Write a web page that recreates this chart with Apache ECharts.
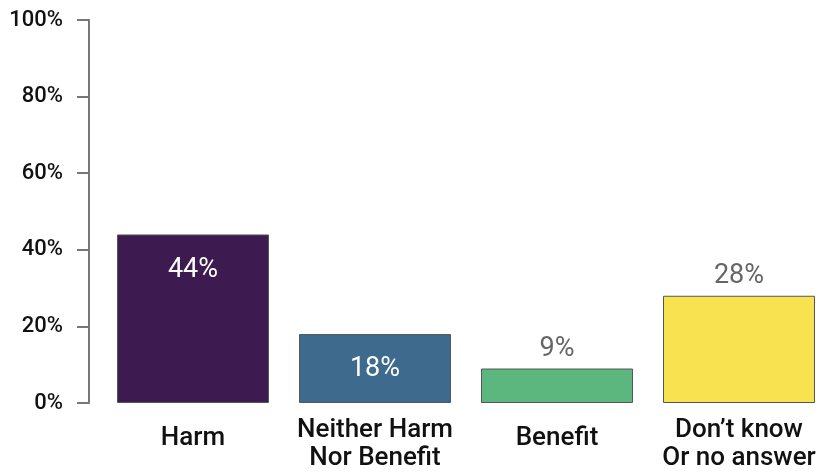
<!DOCTYPE html>
<html><head><meta charset="utf-8">
<script src="https://cdn.jsdelivr.net/npm/echarts@6/dist/echarts.min.js"></script>
<style>html,body{margin:0;padding:0;background:#fff}#c{width:833px;height:472px}</style>
</head><body><div id="c"></div>
<script>
const categories = ['Harm', 'Neither Harm\nNor Benefit', 'Benefit', 'Don\u2019t know\nOr no answer'];
const values = [44, 18, 9, 28];
const colors = ['#3d1a4f', '#3e6a8d', '#5cb77f', '#f8e250'];
const labelInside = [true, true, false, false];
const yTicks = [0, 20, 40, 60, 80, 100];

const font = 'Roboto, sans-serif';
const chart = echarts.init(document.getElementById('c'));
chart.setOption({
  animation: false,
  grid: { left: 102, right: 3, top: 20, bottom: 69 },
  xAxis: {
    type: 'category',
    data: categories.map((c) => ({
      value: c,
      textStyle: c.indexOf('\n') < 0 ? { padding: [8, 0, 0, 0] } : {}
    })),
    axisLine: { show: false },
    axisTick: { show: false },
    axisLabel: { color: '#111', fontSize: 26, fontWeight: 500, fontFamily: font, lineHeight: 28, margin: 13, interval: 0 }
  },
  yAxis: {
    type: 'value', min: yTicks[0], max: yTicks[yTicks.length - 1], interval: 20,
    offset: 13,
    axisLine: { show: true, lineStyle: { color: '#777', width: 2 } },
    axisTick: { show: true, length: 12, lineStyle: { color: '#777', width: 2 } },
    splitLine: { show: false },
    axisLabel: { color: '#111', fontSize: 22, fontWeight: 500, fontFamily: font, margin: 26, formatter: '{value}%' }
  },
  series: [{
    type: 'bar',
    barCategoryGap: '16.5%',
    data: values.map((v, i) => ({
      value: v,
      itemStyle: { color: colors[i], borderColor: '#555', borderWidth: 1 },
      label: labelInside[i]
        ? { show: true, position: 'insideTop', distance: 22, color: '#fff', fontSize: 27, fontFamily: font, formatter: '{c}%' }
        : { show: true, position: 'top', distance: 6, color: '#666', fontSize: 27, fontFamily: font, formatter: '{c}%' }
    }))
  }]
});
</script></body></html>
